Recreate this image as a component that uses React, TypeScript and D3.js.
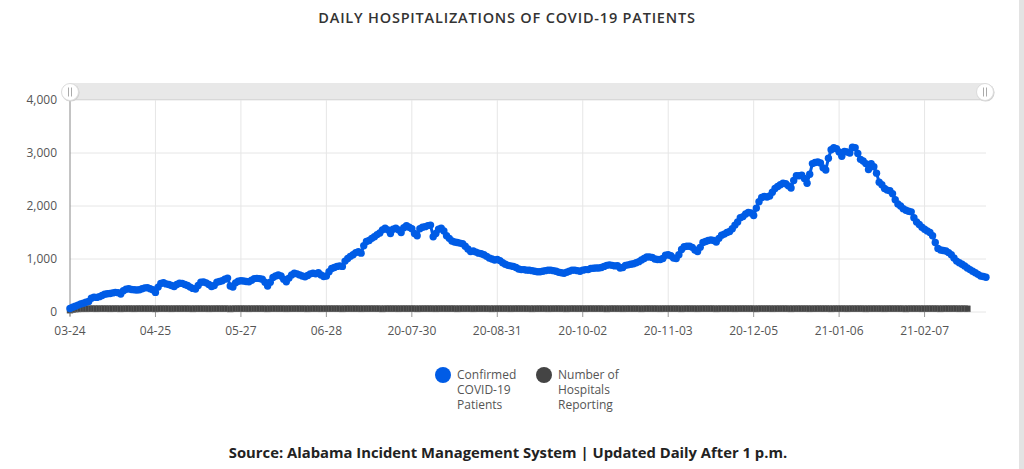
import { useEffect, useRef } from "react";
import { select, scaleTime, scaleLinear, line, timeDay, timeParse, format } from "d3";

const startDate = "2020-03-24";

const tickDates = [
  "2020-03-24", "2020-04-25", "2020-05-27", "2020-06-28", "2020-07-30", "2020-08-31",
  "2020-10-02", "2020-11-03", "2020-12-05", "2021-01-06", "2021-02-07",
];
const tickLabels = [
  "03-24", "04-25", "05-27", "06-28", "20-07-30", "20-08-31",
  "20-10-02", "20-11-03", "20-12-05", "21-01-06", "21-02-07",
];
const yTicks = [0, 1000, 2000, 3000, 4000];

// one value per day from 2020-03-24
const confirmed = [
  65, 90, 110, 130, 150, 165, 185,
  200, 260, 280, 275, 290, 310, 335,
  345, 350, 360, 370, 365, 340, 400,
  430, 440, 425, 420, 415, 420, 440,
  455, 460, 440, 420, 370, 470, 540,
  555, 530, 520, 500, 480, 520, 545,
  540, 520, 500, 470, 445, 435, 500,
  560, 565, 550, 520, 480, 500, 560,
  575, 590, 620, 640, 490, 470, 550,
  580, 590, 585, 575, 570, 600, 630,
  635, 630, 620, 560, 490, 560, 650,
  680, 700, 680, 620, 570, 640, 700,
  730, 720, 700, 680, 665, 690, 720,
  730, 720, 740, 700, 670, 680, 760,
  820, 840, 860, 870, 860, 960, 1010,
  1050, 1080, 1120, 1140, 1110, 1250, 1330,
  1350, 1390, 1420, 1460, 1490, 1550, 1580,
  1550, 1480, 1560, 1580, 1550, 1500, 1590,
  1630, 1600, 1570, 1480, 1440, 1570, 1600,
  1610, 1630, 1640, 1420, 1480, 1560, 1580,
  1530, 1440, 1390, 1340, 1320, 1310, 1300,
  1290, 1240, 1190, 1140, 1150, 1130, 1110,
  1100, 1080, 1050, 1020, 1000, 980, 990,
  970, 930, 900, 880, 870, 860, 840,
  810, 800, 800, 790, 790, 780, 770,
  760, 760, 770, 780, 790, 790, 780,
  770, 750, 740, 730, 750, 770, 790,
  790, 780, 770, 790, 800, 800, 820,
  825, 830, 830, 840, 860, 880, 890,
  880, 870, 875, 830, 840, 880, 890,
  900, 910, 930, 950, 980, 1010, 1040,
  1040, 1030, 1000, 990, 990, 1010, 1070,
  1080, 1060, 1020, 1010, 1080, 1180, 1230,
  1240, 1240, 1220, 1170, 1140, 1220, 1310,
  1330, 1350, 1360, 1350, 1320, 1390, 1450,
  1470, 1500, 1520, 1570, 1640, 1700, 1780,
  1800, 1850, 1880, 1870, 1820, 1960, 2080,
  2160, 2180, 2170, 2190, 2260, 2330, 2370,
  2400, 2430, 2420, 2380, 2340, 2480, 2570,
  2570, 2580, 2520, 2430, 2600, 2800, 2820,
  2830, 2810, 2720, 2680, 2900, 3060, 3100,
  3080, 3020, 2940, 3030, 3020, 3000, 3110,
  3100, 2990, 2880, 2850, 2800, 2690, 2800,
  2740, 2620, 2450, 2400, 2330, 2300, 2290,
  2230, 2120, 2040, 2000, 1950, 1920, 1900,
  1890, 1780, 1700, 1650, 1600, 1560, 1530,
  1500, 1440, 1310, 1200, 1170, 1160, 1150,
  1120, 1080, 1020, 960, 930, 900, 870,
  830, 800, 770, 740, 710, 680, 670,
  655,
];

const hospitals = [
  35, 45, 55, 58, 60, 61, 60,
  62, 61, 62, 60, 62, 61, 62,
  62, 60, 61, 62, 62, 59, 61,
  62, 62, 61, 60, 62, 62, 61,
  62, 61, 62, 62, 58, 61, 62,
  62, 61, 62, 60, 62, 62, 61,
  62, 62, 61, 62, 59, 62, 62,
  61, 62, 62, 60, 61, 62, 62,
  62, 61, 62, 62, 57, 61, 62,
  62, 62, 61, 62, 60, 62, 62,
  61, 62, 62, 61, 59, 62, 62,
  62, 61, 62, 62, 60, 61, 62,
  62, 62, 61, 62, 62, 59, 62,
  61, 62, 62, 60, 62, 61, 62,
  62, 62, 61, 62, 59, 62, 62,
  62, 61, 62, 62, 60, 62, 61,
  62, 62, 62, 61, 62, 58, 62,
  62, 61, 62, 62, 60, 62, 62,
  61, 62, 62, 62, 59, 61, 62,
  62, 62, 61, 62, 60, 62, 62,
  62, 61, 62, 62, 62, 59, 62,
  61, 62, 62, 61, 60, 62, 62,
  62, 62, 61, 62, 59, 62, 61,
  62, 61, 62, 62, 60, 62, 62,
  62, 62, 62, 61, 62, 59, 62,
  61, 62, 62, 62, 60, 61, 62,
  62, 62, 61, 62, 59, 62, 62,
  62, 61, 62, 62, 60, 62, 62,
  61, 62, 62, 61, 62, 58, 62,
  62, 62, 61, 62, 60, 62, 61,
  62, 61, 62, 62, 59, 62, 62,
  62, 62, 61, 62, 60, 61, 62,
  61, 62, 62, 62, 62, 59, 62,
  62, 61, 62, 61, 60, 62, 62,
  62, 62, 62, 62, 59, 61, 62,
  61, 62, 61, 62, 60, 62, 62,
  62, 62, 62, 61, 62, 58, 62,
  62, 61, 62, 62, 60, 62, 61,
  62, 62, 61, 62, 59, 62, 62,
  61, 62, 62, 62, 60, 61, 62,
  62, 62, 61, 62, 62, 59, 62,
  62, 61, 62, 61, 60, 62, 62,
  62, 62, 62, 62, 59, 61, 62,
  61, 62, 61, 62, 60, 62, 62,
  62, 62, 62, 61, 62, 58, 62,
  62, 61, 62, 62, 60, 62, 61,
  62, 62, 61, 62, 59, 62, 62,
  61, 62, 62, 62, 60, 61, 62,
  60,
];

const legendLines = [
  ["Confirmed", "COVID-19", "Patients"],
  ["Number of", "Hospitals", "Reporting"],
];
const seriesColors = ["#005ce6", "#444444"];

const title = "DAILY HOSPITALIZATIONS OF COVID-19 PATIENTS";
const source = "Source: Alabama Incident Management System | Updated Daily After 1 p.m.";

const drawChart = (ref: SVGSVGElement) => {
  const svg = select(ref);
  svg.selectAll("*").remove();

  const W = 1024;
  const H = 469;
  const m = { l: 70, r: 38, t: 100, b: 157 };
  const parse = timeParse("%Y-%m-%d");
  const start = parse(startDate) as Date;
  const days = confirmed.map((_, i) => timeDay.offset(start, i));

  const x = scaleTime()
    .domain([start, days[days.length - 1]])
    .range([m.l, W - m.r]);
  const y = scaleLinear().domain([0, 4000]).range([H - m.b, m.t]);

  svg.append("rect").attr("width", W).attr("height", H).attr("fill", "white");
  // right edge frame
  svg.append("rect").attr("x", 1019).attr("y", 0).attr("width", 5).attr("height", H).attr("fill", "#e3e3e3");

  const font = "'Open Sans', sans-serif";

  svg
    .append("text")
    .attr("x", 507)
    .attr("y", 23)
    .attr("text-anchor", "middle")
    .style("font-family", font)
    .style("font-weight", 600)
    .style("font-size", "14.5px")
    .style("letter-spacing", "0.8px")
    .attr("fill", "#333")
    .text(title);

  const x0 = m.l;
  const x1 = W - m.r;

  // grid
  const g = svg.append("g");
  g.selectAll("line.h")
    .data(yTicks)
    .join("line")
    .attr("x1", x0)
    .attr("x2", x1)
    .attr("y1", (d) => y(d))
    .attr("y2", (d) => y(d))
    .attr("stroke", "#e6e6e6");
  g.selectAll("line.v")
    .data(tickDates.slice(1))
    .join("line")
    .attr("x1", (d) => x(parse(d) as Date))
    .attr("x2", (d) => x(parse(d) as Date))
    .attr("y1", y(4000))
    .attr("y2", y(0))
    .attr("stroke", "#e6e6e6");

  // y axis
  svg
    .append("line")
    .attr("x1", x0)
    .attr("x2", x0)
    .attr("y1", y(4000))
    .attr("y2", y(0) + 4)
    .attr("stroke", "#888");
  svg
    .append("g")
    .selectAll("text")
    .data(yTicks)
    .join("text")
    .attr("x", 57)
    .attr("y", (d) => y(d) + 4)
    .attr("text-anchor", "end")
    .style("font-family", font)
    .style("font-size", "12px")
    .attr("fill", "#555")
    .text((d) => format(",")(d));

  // x axis
  const xa = svg.append("g");
  xa.selectAll("line")
    .data(tickDates)
    .join("line")
    .attr("x1", (d) => x(parse(d) as Date))
    .attr("x2", (d) => x(parse(d) as Date))
    .attr("y1", y(0))
    .attr("y2", y(0) + 5)
    .attr("stroke", "#999");
  xa.selectAll("text")
    .data(tickDates)
    .join("text")
    .attr("x", (d) => x(parse(d) as Date))
    .attr("y", y(0) + 23)
    .attr("text-anchor", "middle")
    .style("font-family", font)
    .style("font-size", "12px")
    .attr("fill", "#555")
    .text((d, i) => tickLabels[i]);

  // hospitals series: square bullets
  svg
    .append("g")
    .selectAll("rect")
    .data(hospitals)
    .join("rect")
    .attr("x", (d, i) => x(days[i]) - 3)
    .attr("y", (d) => y(d) - 3)
    .attr("width", 6)
    .attr("height", 6)
    .attr("fill", seriesColors[1])
    .attr("stroke", "#6a6a6a")
    .attr("stroke-width", 0.5);

  // confirmed series
  const path = line<number>()
    .x((d, i) => x(days[i]))
    .y((d) => y(d));
  svg
    .append("path")
    .attr("d", path(confirmed))
    .attr("fill", "none")
    .attr("stroke", seriesColors[0])
    .attr("stroke-width", 3);
  svg
    .append("g")
    .selectAll("circle")
    .data(confirmed)
    .join("circle")
    .attr("cx", (d, i) => x(days[i]))
    .attr("cy", (d) => y(d))
    .attr("r", 3.7)
    .attr("fill", seriesColors[0]);

  // scrollbar
  const sb = svg.append("g");
  sb.append("rect")
    .attr("x", x0)
    .attr("y", 83)
    .attr("width", x1 - x0)
    .attr("height", 17)
    .attr("fill", "#e8e8e8");
  sb.append("line")
    .attr("x1", x0)
    .attr("x2", x1)
    .attr("y1", 99.5)
    .attr("y2", 99.5)
    .attr("stroke", "#d8d8d8");
  [x0, x1 - 1].forEach((hx) => {
    sb.append("circle").attr("cx", hx + 0.6).attr("cy", 92.6).attr("r", 9).attr("fill", "#d0d0d0");
    sb.append("circle").attr("cx", hx).attr("cy", 92).attr("r", 8.5).attr("fill", "white").attr("stroke", "#dcdcdc");
    [-1.5, 1.5].forEach((dx) =>
      sb.append("line")
        .attr("x1", hx + dx)
        .attr("x2", hx + dx)
        .attr("y1", 87.5)
        .attr("y2", 96.5)
        .attr("stroke", "#aaa")
        .attr("stroke-width", 1)
    );
  });

  // legend
  const lg = svg.append("g");
  [443, 544].forEach((lx, k) => {
    lg.append("circle").attr("cx", lx).attr("cy", 375).attr("r", 8).attr("fill", seriesColors[k]);
    lg.append("g")
      .selectAll("text")
      .data(legendLines[k])
      .join("text")
      .attr("x", lx + 14)
      .attr("y", (d, i) => 379 + i * 15)
      .style("font-family", font)
      .style("font-size", "12px")
      .attr("fill", "#555")
      .text((d) => d);
  });

  svg
    .append("text")
    .attr("x", 508)
    .attr("y", 458)
    .attr("text-anchor", "middle")
    .style("font-family", font)
    .style("font-weight", 700)
    .style("font-size", "14.8px")
    .attr("fill", "#222")
    .text(source);
};

export default function App() {
  const ref = useRef<SVGSVGElement>(null);

  useEffect(() => {
    if (ref.current) drawChart(ref.current);
  }, []);

  return (
    <svg
      ref={ref}
      width={1024}
      height={469}
      style={{ position: "absolute", left: 0, top: 0, display: "block" }}
    />
  );
}
